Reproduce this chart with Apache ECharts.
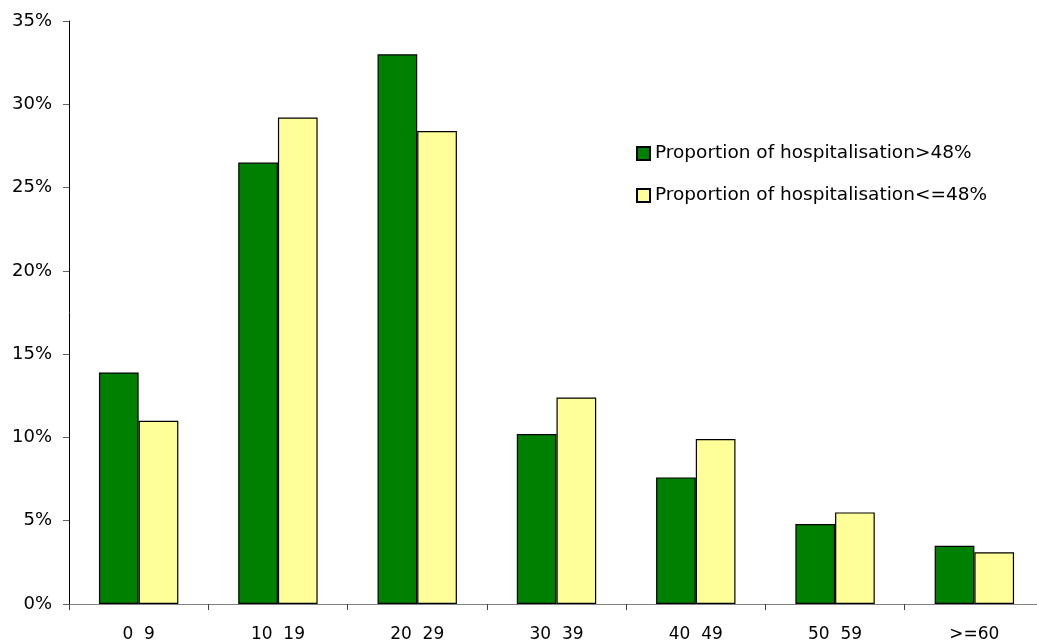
<!DOCTYPE html>
<html>
<head>
<meta charset="utf-8">
<script src="https://cdn.jsdelivr.net/npm/echarts@6/dist/echarts.min.js"></script>
<style>
  html, body { margin: 0; padding: 0; background: #fff; }
  #chart { width: 1037px; height: 644px; }
</style>
</head>
<body>
<div id="chart"></div>
<script>
// age groups (the dash is missing in the original labels)
var ageGroups = ['0  9', '10  19', '20  29', '30  39', '40  49', '50  59', '>=60']
var above48 = [13.9, 26.5, 33.0, 10.2, 7.6, 4.8, 3.5]
var upTo48 = [11.0, 29.2, 28.4, 12.4, 9.9, 5.5, 3.1]

var chart = echarts.init(document.getElementById('chart'))

var font = 'DejaVu Sans, sans-serif'

var option = {
  animation: false,
  textStyle: { fontFamily: font },
  legend: {
    orient: 'vertical',
    left: 631,
    top: 139,
    itemGap: 23,
    itemWidth: 13,
    itemHeight: 13,
    icon: 'rect',
    textStyle: { fontSize: 18.5, color: '#000', fontFamily: font },
    data: ['Proportion of hospitalisation>48%', 'Proportion of hospitalisation<=48%']
  },
  grid: {
    left: 69,
    width: 975,
    top: 21,
    bottom: 40,
    outerBoundsMode: 'none',
    containLabel: false
  },
  xAxis: {
    type: 'category',
    data: ageGroups,
    axisLine: { lineStyle: { color: '#808080', width: 1 } },
    axisTick: { show: true, length: 6, lineStyle: { color: '#404040' } },
    axisLabel: { color: '#000', fontSize: 17, margin: 22, fontFamily: font }
  },
  yAxis: {
    type: 'value',
    min: 0,
    max: 35,
    interval: 5,
    splitLine: { show: false },
    axisLine: { show: true, lineStyle: { color: '#000', width: 1 } },
    axisTick: { show: true, length: 6, lineStyle: { color: '#606060' } },
    axisLabel: {
      color: '#000',
      fontSize: 18,
      margin: 17,
      fontFamily: font,
      formatter: '{value}%'
    }
  },
  series: [
    {
      name: 'Proportion of hospitalisation>48%',
      type: 'bar',
      data: above48,
      barGap: '0%',
      barCategoryGap: '43%',
      itemStyle: { color: '#008000', borderColor: '#000', borderWidth: 1.2 }
    },
    {
      name: 'Proportion of hospitalisation<=48%',
      type: 'bar',
      data: upTo48,
      itemStyle: { color: '#FFFF99', borderColor: '#000', borderWidth: 1.2 }
    }
  ]
}

chart.setOption(option)
</script>
</body>
</html>
